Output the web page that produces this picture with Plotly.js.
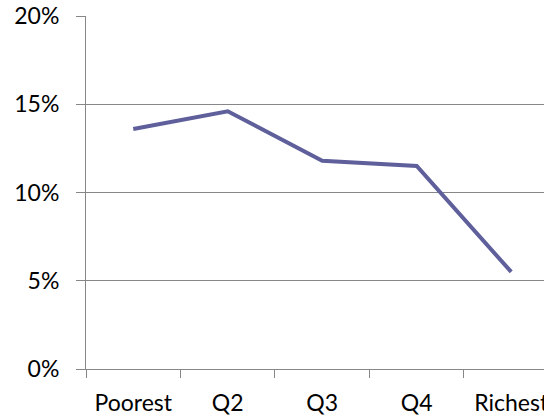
<!DOCTYPE html>
<html>
<head>
<meta charset="utf-8">
<script src="https://cdn.plot.ly/plotly-3.0.1.min.js"></script>
<style>html,body{margin:0;padding:0;background:#fff;overflow:hidden}#chart{width:544px;height:417px}</style>
</head>
<body>
<div id="chart"></div>
<script>
const categories = ["Poorest", "Q2", "Q3", "Q4", "Richest"];
const values = [13.6, 14.6, 11.8, 11.5, 5.5];
const yTicks = [0, 5, 10, 15, 20];
const yTickLabels = ["0%", "5%", "10%", "15%", "20%"];

const font = {family: "Lato, 'Open Sans', sans-serif", size: 23, color: "#000"};
const grid = "#878787";

Plotly.newPlot("chart", [{
  x: categories,
  y: values,
  type: "scatter",
  mode: "lines",
  line: {color: "#5e5f9b", width: 4},
  hoverinfo: "skip"
}], {
  width: 544, height: 417,
  margin: {l: 86, r: 0, t: 16, b: 48, pad: 0},
  paper_bgcolor: "#fff", plot_bgcolor: "#fff",
  showlegend: false,
  font: font,
  xaxis: {
    type: "category",
    range: [-0.5, 4.347],
    showgrid: false, zeroline: false,
    showline: true, linecolor: grid, linewidth: 1,
    ticks: "outside", tickson: "boundaries", ticklen: 8, tickcolor: grid, tickwidth: 1,
    ticklabelstandoff: 13,
    tickfont: font,
    automargin: false
  },
  yaxis: {
    range: [0, 20],
    tickvals: yTicks, ticktext: yTickLabels,
    showgrid: true, gridcolor: grid, gridwidth: 1,
    zeroline: false,
    showline: true, linecolor: grid, linewidth: 1,
    ticks: "outside", ticklen: 9, tickcolor: grid, tickwidth: 1,
    ticklabelstandoff: 12,
    tickfont: font,
    automargin: false
  }
}, {displayModeBar: false, staticPlot: true});
</script>
</body>
</html>
